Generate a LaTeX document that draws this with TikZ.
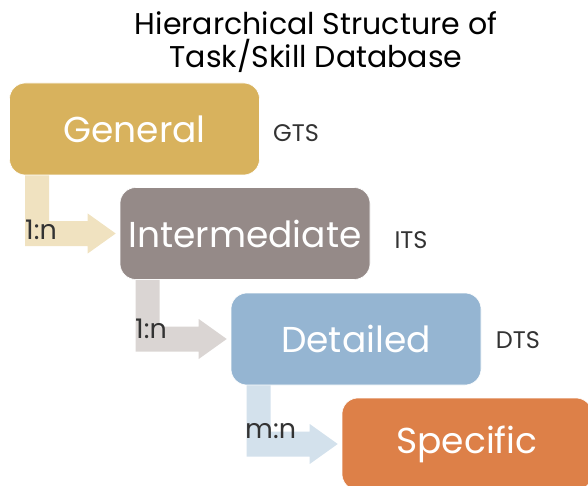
\documentclass[tikz,border=0pt]{standalone}
\usepackage{fontspec}
\setmainfont{Poppins}
\usetikzlibrary{calc}
\definecolor{cGen}{HTML}{D8B25D}
\definecolor{cInt}{HTML}{958A88}
\definecolor{cDet}{HTML}{95B5D2}
\definecolor{cSpe}{HTML}{DD8048}
\definecolor{aGen}{HTML}{F0E2C0}
\definecolor{aInt}{HTML}{DAD5D3}
\definecolor{aDet}{HTML}{D3E1EC}
\definecolor{txt}{HTML}{333333}
\newcommand\bentarrow[3]{%
  \fill[#3] let \p1=(#1.south west), \p2=(#2.west) in
    (\x1+16pt,\y1) -- (\x1+40pt,\y1) -- (\x1+40pt,\y2+12.5pt) -- (\x2-32pt,\y2+12.5pt)
    -- (\x2-32pt,\y2+20pt) -- (\x2-4pt,\y2) -- (\x2-32pt,\y2-20pt) -- (\x2-32pt,\y2-12.5pt)
    -- (\x1+16pt,\y2-12.5pt) -- cycle;}
\begin{document}
\begin{tikzpicture}[x=1pt,y=-1pt,
  box/.style={rounded corners=16pt, minimum width=250pt, minimum height=92pt, text=white,
    font=\fontsize{36}{40}\selectfont, draw=white, line width=0.6pt, inner sep=0pt},
  tag/.style={text=txt, font=\fontsize{24}{28}\selectfont},
  ratio/.style={text=txt, font=\fontsize{27}{30}\selectfont, anchor=west, inner sep=0pt},
  title/.style={text=black, font=\fontsize{30}{33}\selectfont, align=center}]
\useasboundingbox (0,0) rectangle (588,486);
\node[title] (t) at (316,42) {Hierarchical Structure of\\Task/Skill Database};
\node[box, fill=cGen] (g) at (134.5,129) {General};
\node[box, fill=cInt] (i) at (245,233.5) {Intermediate};
\node[box, fill=cDet] (d) at (356,339) {Detailed};
\node[box, fill=cSpe] (s) at (467,444) {Specific};
\bentarrow{g}{i}{aGen}
\bentarrow{i}{d}{aInt}
\bentarrow{d}{s}{aDet}
\node[ratio] (r1) at (25,230) {1:n};
\node[ratio] (r2) at (135,329) {1:n};
\node[ratio] (r3) at (245,431) {m:n};
\node[tag] (gt) at (296,133) {GTS};
\node[tag] (it) at (411,240) {ITS};
\node[tag] (dt) at (518,340) {DTS};
\end{tikzpicture}
\end{document}
